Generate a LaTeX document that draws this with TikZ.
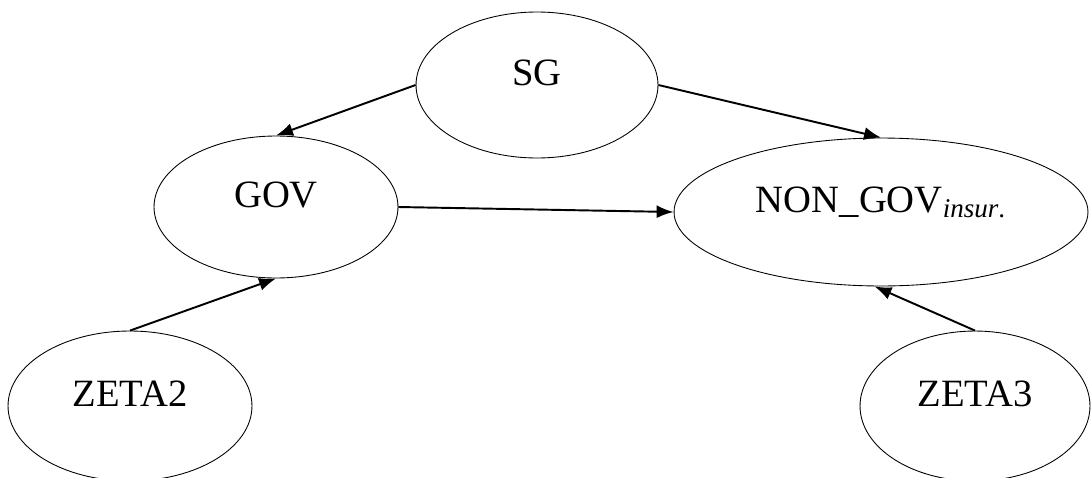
\documentclass[tikz,border=0pt]{standalone}
\usepackage{fontspec}
\setmainfont{Liberation Serif}
\usepackage{tikz}
\usetikzlibrary{shapes,arrows.meta,positioning,calc}
\tikzset{
state/.style = {draw, ellipse, inner sep=0pt, line width=0.5pt, text height=0.3cm, text depth=0.3cm, font=\fontsize{22}{26}\selectfont},
link/.style = {->, line width=1.1pt},
}

\begin{document}
\begin{tikzpicture}[x=0.02cm, y=-0.02cm, >={Latex[length=0.34cm,width=0.26cm]}]
      \useasboundingbox (0,0) rectangle (1091,477);
      \node [state, name=sg, minimum width=4.84cm, minimum height=2.92cm] at (537,85) {SG};
      \node [state, name=gov, minimum width=4.88cm, minimum height=2.84cm] at (276,207) {GOV};
      \node [state, name=nongov, minimum width=8.28cm, minimum height=2.96cm] at (881,212)
         {NON\_GOV\textsubscript{\textit{insur}.}};
      \node [state, name=zeta2, minimum width=4.88cm, minimum height=3.0cm] at (130,406) {ZETA2};
      \node [state, name=zeta3, minimum width=4.60cm, minimum height=3.0cm] at (975,406) {ZETA3};
      \draw [link] (sg.west) -- (gov.north);
      \draw [link] (sg.east) -- (nongov.north);
      \draw [link] (gov.east) -- (nongov.west);
      \draw [link] (zeta2.north) -- (gov.south);
      \draw [link] (zeta3.north) -- (nongov.265);
\end{tikzpicture}
\end{document}
